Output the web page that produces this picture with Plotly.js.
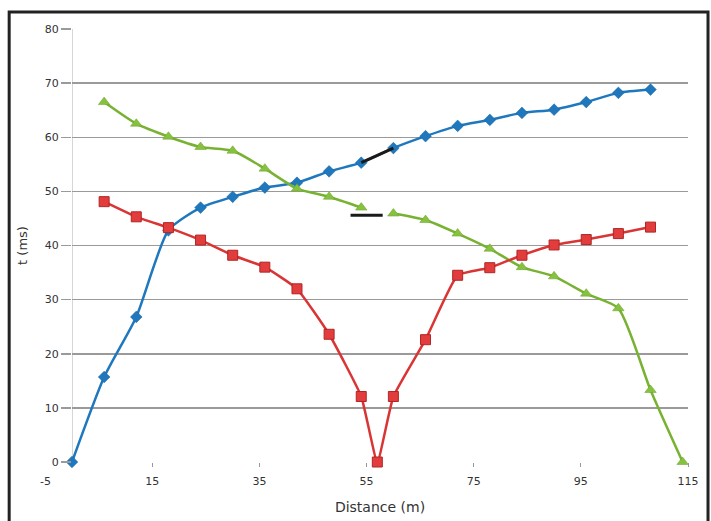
<!DOCTYPE html>
<html>
<head>
<meta charset="utf-8">
<script src="https://cdn.plot.ly/plotly-3.0.1.min.js"></script>
<style>html,body{margin:0;padding:0;background:#fff;}#chart{width:711px;height:521px;}</style>
</head>
<body>
<div id="chart"></div>
<script>
// ---- data ----
var xBlue = [0, 6, 12, 18, 24, 30, 36, 42, 48, 54, 60, 66, 72, 78, 84, 90, 96, 102, 108];
var yBlue = [0, 15.7, 26.8, 42.8, 47.0, 49.0, 50.7, 51.6, 53.7, 55.3, 58.0, 60.2, 62.1, 63.2, 64.5, 65.1, 66.5, 68.2, 68.8];

var xGreen = [6, 12, 18, 24, 30, 36, 42, 48, 54, 60, 66, 72, 78, 84, 90, 96, 102, 108, 114];
var yGreen = [66.5, 62.5, 60.1, 58.2, 57.5, 54.2, 50.5, 49.0, 47.0, 45.9, 44.7, 42.2, 39.4, 36.0, 34.3, 31.1, 28.4, 13.3, 0];

var xRed = [6, 12, 18, 24, 30, 36, 42, 48, 54, 57, 60, 66, 72, 78, 84, 90, 96, 102, 108];
var yRed = [48.1, 45.3, 43.3, 41.0, 38.2, 36.0, 32.0, 23.6, 12.1, 0, 12.1, 22.6, 34.5, 35.9, 38.2, 40.1, 41.1, 42.2, 43.4];

var xDash = [52, 58];
var yDash = [45.6, 45.6];

var gapStart = 54, gapEnd = 60;   // green gap and black blue segment
var xTickVals = [15, 35, 55, 75, 95, 115];
var extraXTick = -5;
var xMax = 115;

// ---- build traces ----
function part(xs, ys, test) {
  var ox = [], oy = [];
  for (var i = 0; i < xs.length; i++) if (test(xs[i])) { ox.push(xs[i]); oy.push(ys[i]); }
  return {x: ox, y: oy};
}
var gL = part(xGreen, yGreen, function (v) { return v <= gapStart; });
var gR = part(xGreen, yGreen, function (v) { return v >= gapEnd; });
var bSeg = part(xBlue, yBlue, function (v) { return v >= gapStart && v <= gapEnd; });

var blueC = '#1f78bd', redC = '#e23c3c', greenC = '#86c23e';
var sm = 0.6;

var traces = [
  {x: xBlue, y: yBlue, mode: 'lines+markers', line: {color: blueC, width: 2.5, shape: 'spline', smoothing: sm},
   marker: {symbol: 'diamond', size: 9, color: blueC, line: {color: '#16609a', width: 0.5}}, cliponaxis: false},
  {x: gL.x, y: gL.y, mode: 'lines+markers', line: {color: '#78b232', width: 2.5, shape: 'spline', smoothing: sm},
   marker: {symbol: 'triangle-up', size: 10, color: greenC, line: {color: '#6a9e2c', width: 0.5}}, cliponaxis: false},
  {x: gR.x, y: gR.y, mode: 'lines+markers', line: {color: '#78b232', width: 2.5, shape: 'spline', smoothing: sm},
   marker: {symbol: 'triangle-up', size: 10, color: greenC, line: {color: '#6a9e2c', width: 0.5}}, cliponaxis: false},
  {x: xRed, y: yRed, mode: 'lines+markers', line: {color: '#d93535', width: 2.5, shape: 'spline', smoothing: 0.4},
   marker: {symbol: 'square', size: 10, color: redC, line: {color: '#b02626', width: 1}}, cliponaxis: false},
  {x: bSeg.x, y: bSeg.y, mode: 'lines', line: {color: '#1a1a1a', width: 3}},
  {x: xDash, y: yDash, mode: 'lines', line: {color: '#1a1a1a', width: 3}}
];

var layout = {
  width: 711, height: 521,
  margin: {l: 72, r: 23, t: 29, b: 59},
  paper_bgcolor: '#ffffff', plot_bgcolor: '#ffffff',
  showlegend: false,
  font: {family: 'DejaVu Sans, sans-serif', color: '#333'},
  xaxis: {
    range: [0, xMax], tickmode: 'array', tickvals: xTickVals, ticktext: xTickVals.map(String),
    showgrid: false, zeroline: false, showline: false,
    ticks: 'outside', ticklen: 4, tickcolor: '#999', tickwidth: 1, ticklabelstandoff: 5,
    tickfont: {size: 11, color: '#333'},
    title: {text: 'Distance (m)', font: {size: 14, color: '#333'}, standoff: 14}
  },
  yaxis: {
    range: [0, 80], dtick: 10, showgrid: true, gridcolor: '#9a9a9a', gridwidth: 1.5,
    zeroline: false, showline: false,
    ticks: 'outside', ticklen: 10, tickcolor: '#9a9a9a', tickwidth: 1.5,
    tickfont: {size: 11, color: '#333'},
    title: {text: 't (ms)', font: {size: 13, color: '#333'}, standoff: 14}
  },
  shapes: [
    {type: 'line', xref: 'x', yref: 'paper', x0: 0, x1: 0, y0: 0, y1: 1, line: {color: '#c8c8c8', width: 1.5}, layer: 'below'},
    {type: 'rect', xref: 'paper', yref: 'paper', x0: -0.102, x1: 1.0325, y0: -0.16, y1: 1.039, line: {color: '#222', width: 3}}
  ],
  annotations: [
    {xref: 'paper', yref: 'paper', x: extraXTick / xMax, y: 0, yanchor: 'top', xanchor: 'center', yshift: -11, showarrow: false,
     text: String(extraXTick), font: {size: 11, color: '#333'}}
  ]
};

Plotly.newPlot('chart', traces, layout, {displayModeBar: false, staticPlot: true});
</script>
</body>
</html>
